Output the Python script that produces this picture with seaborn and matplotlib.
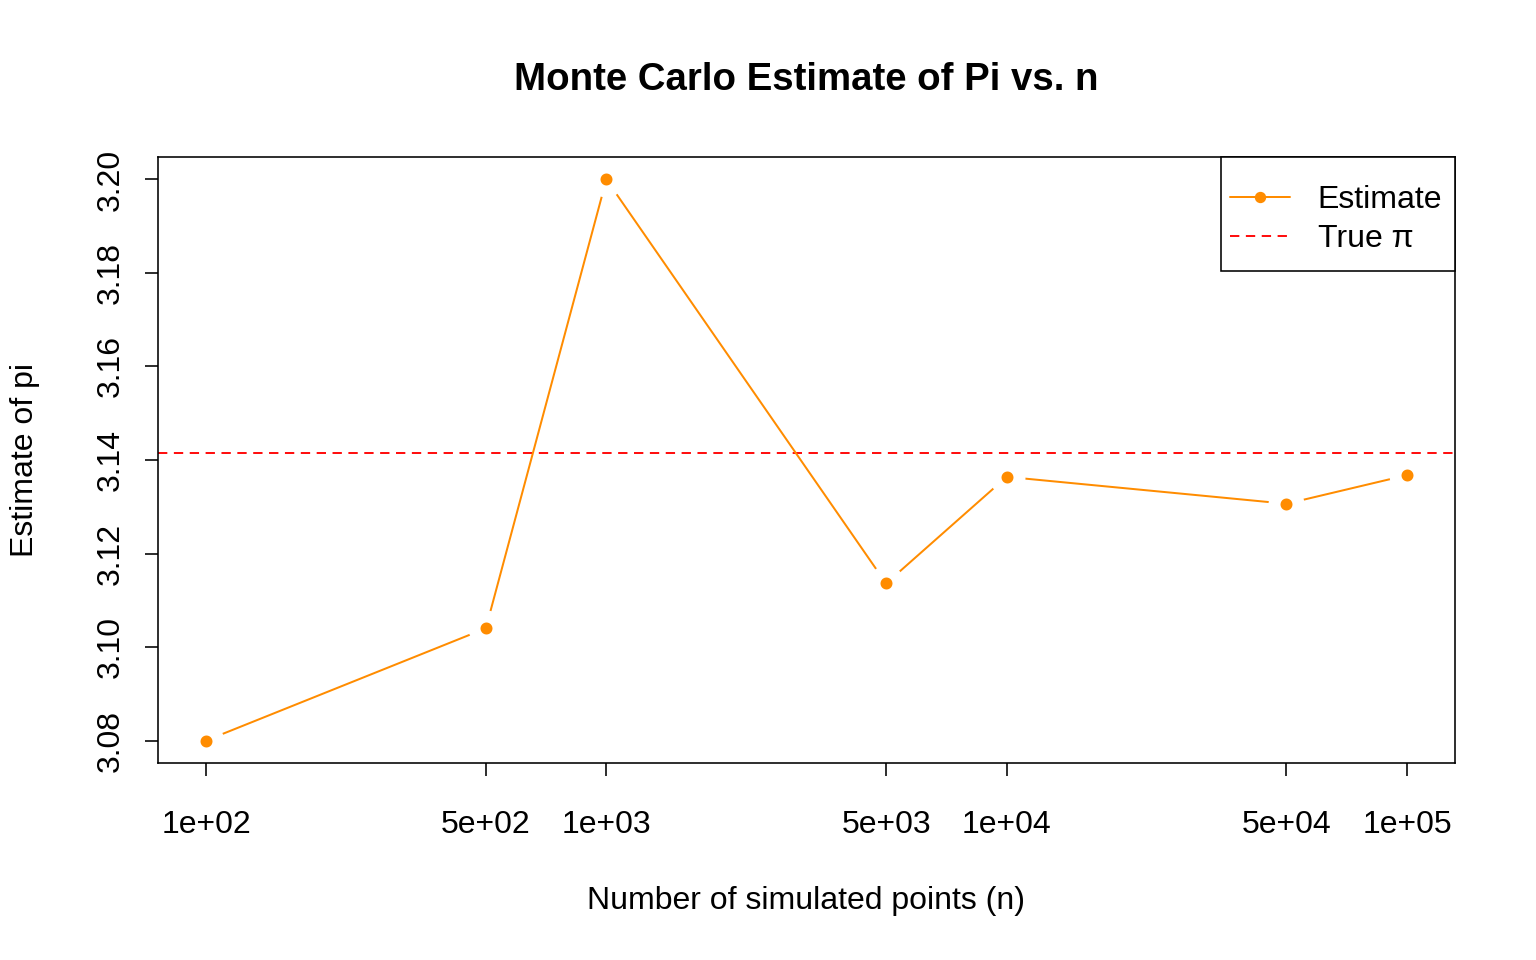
import numpy as np
import pandas as pd
import matplotlib
matplotlib.use('Agg')
import matplotlib.pyplot as plt
import seaborn as sns
from matplotlib.lines import Line2D
from matplotlib.patches import Rectangle

n_values = [100, 500, 1000, 5000, 10000, 50000, 100000]
pi_estimates = [3.080, 3.104, 3.200, 3.1136, 3.1364, 3.13064, 3.13676]
tick_labels = ['1e+02', '5e+02', '1e+03', '5e+03', '1e+04', '5e+04', '1e+05']
true_pi = np.pi

df = pd.DataFrame({'n': n_values, 'estimate': pi_estimates})

sns.set_style('ticks')
plt.rcParams['font.family'] = ['Liberation Sans', 'DejaVu Sans']
plt.rcParams['text.color'] = 'black'
plt.rcParams['axes.labelcolor'] = 'black'
plt.rcParams['xtick.color'] = 'black'
plt.rcParams['ytick.color'] = 'black'

W, H = 1536, 960
x0, x1, y0, y1 = 158, 1455, 157, 763
fig = plt.figure(figsize=(16, 10), dpi=96)
ax = fig.add_axes([x0 / W, 1 - y1 / H, (x1 - x0) / W, (y1 - y0) / H])

# line with gaps around the points, like R type="b"
sns.lineplot(data=df, x='n', y='estimate', ax=ax, color='darkorange', lw=1.5,
             marker='o', markersize=18, markeredgewidth=9,
             markeredgecolor='white', markerfacecolor='darkorange', zorder=3)
ax.axhline(true_pi, color='red', ls=(0, (5, 3.5)), lw=1.4, zorder=2)

ax.set_xscale('log')
ax.set_xlim(10 ** (2 - 0.12), 10 ** (5 + 0.12))
ax.set_ylim(3.08 - 0.0048, 3.20 + 0.0048)
ax.set_xticks(n_values)
ax.set_xticklabels(tick_labels)
ax.minorticks_off()
ax.set_yticks([3.08, 3.10, 3.12, 3.14, 3.16, 3.18, 3.20])
ax.set_yticklabels(['3.08', '3.10', '3.12', '3.14', '3.16', '3.18', '3.20'],
                   rotation=90, va='center')
ax.tick_params(axis='both', labelsize=24, length=10, width=1.2, color='black',
               labelcolor='black', direction='out')
ax.tick_params(axis='x', pad=25)
ax.tick_params(axis='y', pad=14)
for s in ax.spines.values():
    s.set_visible(True)
    s.set_color('black')
    s.set_linewidth(1.2)

ax.set_xlabel('')
ax.set_ylabel('')
fig.text(806 / W, 1 - 901 / H, 'Number of simulated points (n)',
         fontsize=24, ha='center', va='center')
fig.text(25 / W, 1 - 460 / H, 'Estimate of pi', fontsize=24, rotation=90,
         ha='center', va='center')
fig.text(806 / W, 1 - 80 / H, 'Monte Carlo Estimate of Pi vs. n',
         fontsize=28.8, fontweight='bold', ha='center', va='center')

# legend box drawn separately (R-style asymmetric padding)
ax.add_patch(Rectangle(((1221 - x0) / (x1 - x0), (y1 - 271) / (y1 - y0)),
                       (x1 - 1221) / (x1 - x0), (271 - y0) / (y1 - y0),
                       transform=ax.transAxes, facecolor='white',
                       edgecolor='black', lw=1.2, zorder=5, clip_on=False))
handles = [
    Line2D([], [], color='darkorange', lw=1.5, marker='o', markersize=7.5),
    Line2D([], [], color='red', lw=1.4, ls=(0, (5, 3.5))),
]
leg = ax.legend(handles, ['Estimate', 'True \u03c0'], loc='upper right',
                bbox_to_anchor=((1442 - x0) / (x1 - x0), (y1 - 185) / (y1 - y0)),
                fontsize=24, frameon=False, borderaxespad=0, borderpad=0,
                handlelength=1.85, handletextpad=0.875, labelspacing=0.29)
leg.set_zorder(6)

plt.savefig('out.png', dpi=96)
